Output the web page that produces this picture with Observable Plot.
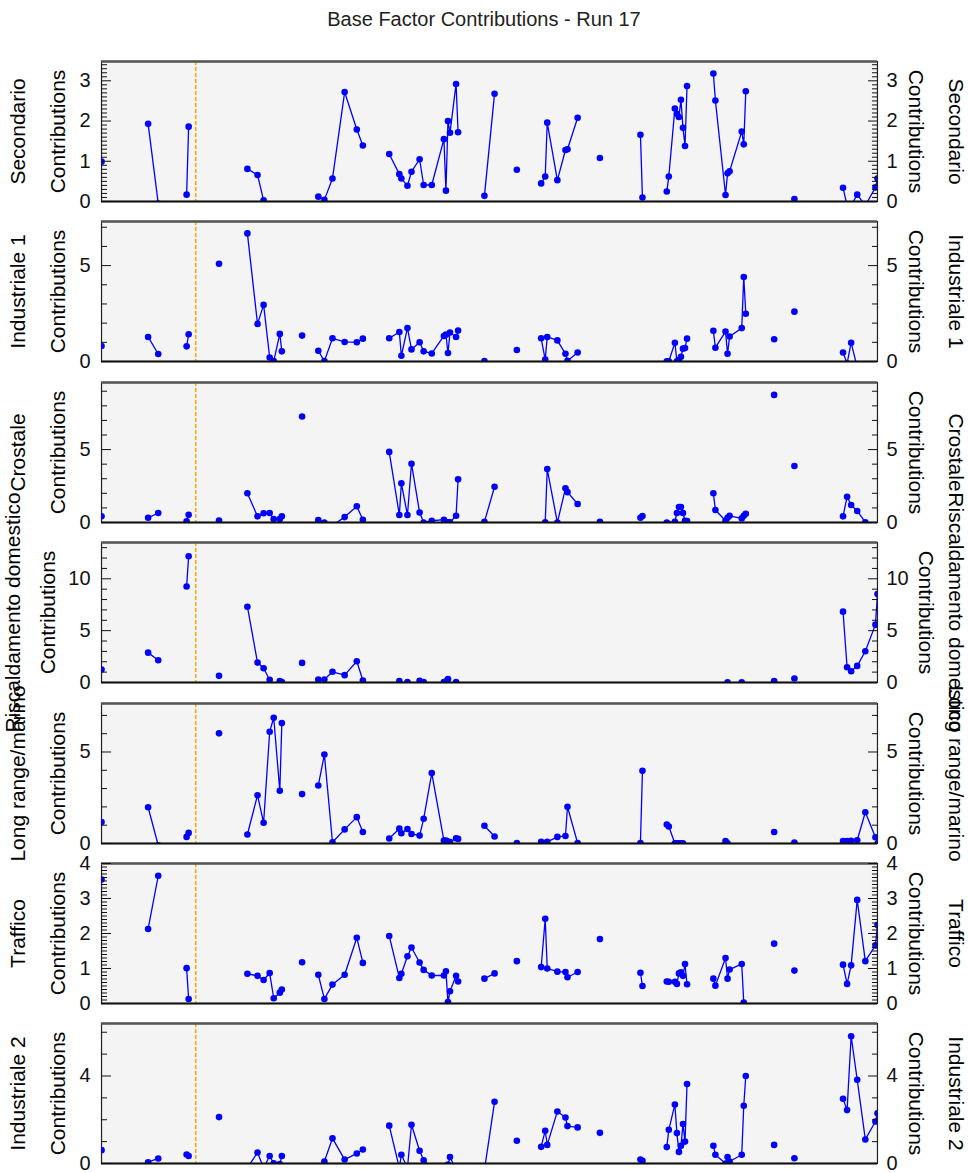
<!DOCTYPE html>
<html><head><meta charset="utf-8">
<script src="https://cdn.jsdelivr.net/npm/d3@7"></script>
<script src="https://cdn.jsdelivr.net/npm/@observablehq/plot@0.6"></script>
<style>
body{margin:0;background:#fff;font-family:"Liberation Sans",Arial,sans-serif;}
#title{width:968px;height:43px;padding-top:8px;line-height:22px;font-size:20px;text-align:center;color:#222;}
svg{display:block}
</style></head><body>
<div id="title">Base Factor Contributions - Run 17</div>
<div id="charts"></div>
<script>
// sample days (x)
const days = [0, 23, 28, 42, 43, 58, 72, 77, 80, 83, 85, 88, 89, 99, 107, 110, 114, 120, 126, 129,
  142, 147, 148, 151, 153, 157, 159, 163, 169, 170, 171, 172, 175, 176, 189, 194, 205,
  217, 219, 220, 225, 229, 230, 235, 246, 266, 267, 279, 280, 283, 284, 285, 286, 287, 288, 289,
  302, 303, 308, 309, 310, 316, 317, 318, 332, 342, 366, 368, 370, 373, 377, 382, 383];
// first day of each connected run of samples
const segmentStarts = [0, 23, 42, 58, 72, 99, 107, 142, 189, 205, 217, 246, 266, 279, 302, 332, 342, 366];
const markerDay = 46.5;

const factorNames = ["Secondario", "Industriale 1", "Crostale", "Riscaldamento domestico", "Long range/marino", "Traffico", "Industriale 2"];

const secondario = [0.99, 1.93, -0.05, 0.17, 1.86, -0.2, 0.81, 0.66, 0.03, -0.1, -0.1, -0.1, -0.1, -0.2, 0.12, 0.04, 0.57, 2.72, 1.79, 1.39,
  1.18, 0.68, 0.57, 0.39, 0.74, 1.05, 0.41, 0.41, 1.55, 0.27, 2.0, 1.71, 2.92, 1.72, 0.14, 2.68, 0.79,
  0.45, 0.62, 1.96, 0.53, 1.28, 1.30, 2.08, 1.08, 1.66, 0.10, 0.25, 0.62, 2.31, 2.18, 2.10, 2.53, 1.83, 1.38, 2.87,
  3.18, 2.51, 0.16, 0.70, 0.75, 1.74, 1.42, 2.74, -0.2, 0.06, 0.34, -0.1, -0.1, 0.17, -0.1, 0.35, 0.57];
const industriale1 = [0.81, 1.28, 0.39, 0.79, 1.42, 5.1, 6.68, 1.96, 2.95, 0.21, 0.02, 1.44, 0.53, 1.35, 0.56, 0.02, 1.21, 1.02, 1.0, 1.19,
  1.21, 1.54, 0.30, 1.75, 0.63, 1.0, 0.53, 0.42, 1.33, 1.40, 0.44, 1.51, 1.28, 1.61, 0.02, -0.3, 0.6,
  1.21, 0.10, 1.28, 1.10, 0.40, 0.03, 0.47, -0.3, -0.3, -0.3, 0.01, 0.01, 0.98, 0.01, 0.07, 0.25, 0.67, 0.70, 1.19,
  1.6, 0.72, 1.56, 0.40, 1.30, 1.74, 4.4, 2.49, 1.16, 2.6, 0.47, -0.1, 0.98, -0.3, -0.3, -0.3, -0.3];
const crostale = [0.42, 0.32, 0.65, 0.09, 0.53, 0.14, 2.01, 0.42, 0.63, 0.65, 0.23, 0.23, 0.42, 7.27, 0.16, 0.0, -0.2, 0.37, 1.11, 0.19,
  4.84, 0.51, 2.69, 0.51, 4.03, 0.69, 0.0, 0.12, 0.19, 0.02, 0.02, 0.02, 0.46, 2.96, 0.05, 2.45, -0.3,
  -0.2, 0.02, 3.66, 0.0, 2.34, 2.08, 1.27, 0.05, 0.32, 0.44, 0.0, -0.1, 0.05, 0.65, 1.06, 1.06, 0.65, 0.12, 0.1,
  2.01, 0.86, 0.12, 0.32, 0.46, 0.28, 0.46, 0.6, 8.75, 3.87, 0.42, 1.76, 1.2, 0.79, 0.02, -0.2, -0.2];
const riscaldamento = [1.25, 2.88, 2.15, 9.26, 12.18, 0.64, 7.31, 1.92, 1.38, 0.26, -0.3, 0.13, 0.05, 1.89, 0.29, 0.29, 1.03, 0.71, 2.05, 0.19,
  -0.5, 0.13, -0.3, 0.05, -0.3, 0.16, 0.05, -0.3, 0.05, 0.1, 0.32, -0.3, 0.05, -0.3, -0.5, -0.5, -0.5,
  -0.5, -0.5, -0.5, -0.5, -0.5, -0.5, -0.5, -0.5, -0.5, -0.5, -0.5, -0.5, -0.5, -0.5, -0.5, -0.5, -0.5, -0.5, -0.5,
  -0.5, -0.5, -0.5, 0.02, -0.5, 0.02, -0.5, -0.5, 0.13, 0.38, 6.83, 1.47, 1.09, 1.6, 3.01, 5.58, 8.53];
const longRange = [1.17, 1.98, -0.1, 0.36, 0.58, 6.02, 0.49, 2.64, 1.13, 6.11, 6.87, 2.88, 6.58, 2.7, 3.17, 4.86, 0.07, 0.77, 1.44, 0.63,
  0.27, 0.81, 0.56, 0.79, 0.52, 0.43, 1.35, 3.85, 0.16, 0.16, 0.11, 0.08, 0.29, 0.25, 0.97, 0.38, 0.02,
  0.09, 0.02, 0.09, 0.36, 0.41, 2.01, 0.02, -0.3, 0.02, 3.97, 1.04, 0.93, 0.01, 0.01, 0.01, 0.01, 0.01, -0.2, -0.2,
  -0.2, -0.2, 0.13, 0.01, -0.2, -0.2, -0.2, -0.2, 0.63, 0.05, 0.14, 0.14, 0.15, 0.18, 1.71, 0.34, 0.0];
const traffico = [3.54, 2.13, 3.65, 1.01, 0.13, -0.2, 0.85, 0.79, 0.67, 0.87, 0.15, 0.31, 0.40, 1.18, 0.82, 0.13, 0.54, 0.82, 1.88, 1.16,
  1.93, 0.73, 0.85, 1.35, 1.60, 1.17, 0.96, 0.80, 0.80, 0.92, 0.04, 0.35, 0.79, 0.63, 0.71, 0.86, 1.21,
  1.04, 2.42, 1.00, 0.91, 0.90, 0.75, 0.90, 1.84, 0.88, 0.50, 0.63, 0.62, 0.62, 0.56, 0.86, 0.89, 0.79, 1.13, 0.55,
  0.71, 0.51, 1.30, 0.71, 0.97, 1.13, 0.03, -0.2, 1.71, 0.94, 1.11, 0.56, 1.09, 2.96, 1.21, 1.66, 2.24];
const industriale2 = [0.61, 0.06, 0.23, 0.41, 0.34, 2.12, -0.2, 0.50, -0.2, 0.34, 0.01, -0.02, 0.34, -0.3, -0.2, 0.09, 1.15, 0.18, 0.46, 0.64,
  1.73, -0.2, 0.40, -0.2, 1.77, 0.58, 0.15, -0.2, -0.2, -0.2, -0.05, 0.30, -0.3, -0.3, -0.3, 2.82, 1.04,
  0.76, 1.50, 0.85, 2.38, 2.10, 1.71, 1.65, 1.40, 0.18, 0.12, 0.75, 1.54, 2.70, 1.39, 0.53, 0.81, 1.80, 1.00, 3.63,
  0.81, 0.40, 0.0, 0.30, 0.09, 0.40, 2.64, 4.00, 0.85, 0.24, 2.96, 2.44, 5.82, 3.83, 1.10, 1.92, 2.30];

const factorValues = [secondario, industriale1, crostale, riscaldamento, longRange, traffico, industriale2];
const yTops = [3.48, 7.3, 9.6, 13.5, 7.65, 4, 6.4];
const labelTicks = [[0, 1, 2, 3], [0, 5], [0, 5], [0, 5, 10], [0, 5], [0, 1, 2, 3, 4], [0, 4]];
const minorSteps = [0.1, 1, 1, 1, 1, 0.1, 1];

const segOf = days.map(d => d3.bisectRight(segmentStarts, d));
const font = "Liberation Sans, Arial, sans-serif";

function panel(k) {
  const name = factorNames[k], values = factorValues[k], top = yTops[k], labels = labelTicks[k], step = minorSteps[k];
  const data = days.map((d, i) => ({day: d, value: values[i], seg: segOf[i]}));
  const n = Math.floor(top / step + 1e-6);
  const minor = d3.range(0, n + 1).map(i => +(i * step).toFixed(3)).filter(v => !labels.includes(v));
  const wide = labels.some(v => v >= 10) ? 10 : 0;
  const txt = {text: d => d, fill: "#000", fontSize: 21, fontFamily: font, textAnchor: "middle", lineAnchor: "middle"};
  const fmt = d => String(d);
  return Plot.plot({
    width: 968, height: 160.4,
    marginLeft: 101, marginRight: 91, marginTop: 10, marginBottom: 10.4,
    style: {background: "transparent", overflow: "visible", fontFamily: font, color: "#000"},
    x: {domain: [0, 383], axis: null},
    y: {domain: [0, top]},
    marks: [
      Plot.frame({fill: "#f4f4f4", stroke: "#222", strokeWidth: 1.2}),
      Plot.ruleX([markerDay], {stroke: "#ffa500", strokeWidth: 1.5, strokeDasharray: "4,2"}),
      Plot.line(data, {x: "day", y: "value", z: "seg", stroke: "#0000ff", strokeWidth: 1.3, clip: true}),
      Plot.dot(data, {x: "day", y: "value", r: 3.3, fill: "#0000ff", stroke: "none", clip: true}),
      Plot.ruleY([top], {stroke: "#555", strokeWidth: 2.5}),
      Plot.ruleY([0], {stroke: "#111", strokeWidth: 2}),
      Plot.axisY({anchor: "left", ticks: minor, tickSize: 6, dx: 6, fill: "none", label: null, stroke: "#111"}),
      Plot.axisY({anchor: "left", ticks: labels, tickSize: 10, dx: 10, fill: "none", label: null, stroke: "#111"}),
      Plot.axisY({anchor: "right", ticks: minor, tickSize: 6, dx: -6, fill: "none", label: null, stroke: "#111"}),
      Plot.axisY({anchor: "right", ticks: labels, tickSize: 10, dx: -10, fill: "none", label: null, stroke: "#111"}),
      Plot.axisY({anchor: "left", ticks: labels, tickFormat: fmt, tickSize: 0, tickPadding: 11, label: null, fontSize: 20, fill: "#111"}),
      Plot.axisY({anchor: "right", ticks: labels, tickFormat: fmt, tickSize: 0, tickPadding: 9, label: null, fontSize: 20, fill: "#111"}),
      Plot.text(["Contributions"], {...txt, frameAnchor: "left", rotate: -90, dx: -43 - wide}),
      Plot.text([name], {...txt, frameAnchor: "left", rotate: -90, dx: -83 - wide / 2}),
      Plot.text(["Contributions"], {...txt, frameAnchor: "right", rotate: 90, dx: 38 + wide}),
      Plot.text([name], {...txt, frameAnchor: "right", rotate: 90, dx: 78})
    ]
  });
}

const host = document.getElementById("charts");
factorNames.forEach((_, k) => host.appendChild(panel(k)));
</script>
</body></html>
